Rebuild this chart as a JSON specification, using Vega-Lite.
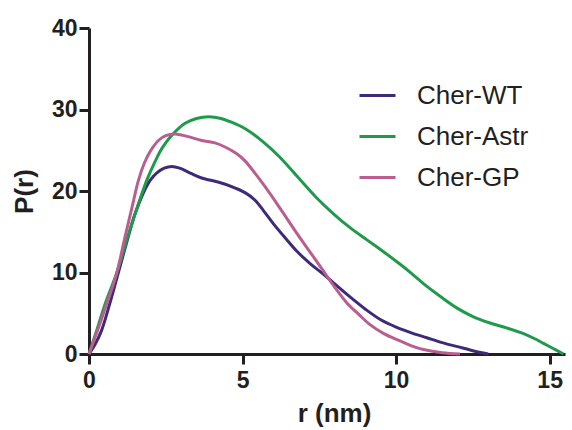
{
  "$schema": "https://vega.github.io/schema/vega-lite/v6.json",
  "width": 476,
  "height": 326,
  "autosize": {"type": "none"},
  "padding": {"left": 89, "top": 28, "right": 7, "bottom": 76},
  "background": "white",
  "config": {
    "view": {"stroke": null},
    "font": "Liberation Sans",
    "axis": {
      "grid": false,
      "domainColor": "#231f20",
      "domainWidth": 3,
      "tickColor": "#231f20",
      "tickWidth": 3,
      "tickSize": 10,
      "labelFlush": false,
      "labelFont": "Liberation Sans",
      "labelFontWeight": "bold",
      "labelFontSize": 23,
      "labelColor": "#231f20",
      "titleFont": "Liberation Sans",
      "titleFontWeight": "bold",
      "titleFontSize": 26,
      "titleColor": "#231f20"
    }
  },
  "data": {
    "values": [
      {"series": "Cher-WT", "r": 0, "p": 0},
      {"series": "Cher-WT", "r": 0.2, "p": 1.2},
      {"series": "Cher-WT", "r": 0.41, "p": 2.9},
      {"series": "Cher-WT", "r": 0.7, "p": 6.5},
      {"series": "Cher-WT", "r": 0.95, "p": 9.9},
      {"series": "Cher-WT", "r": 1.25, "p": 14.0},
      {"series": "Cher-WT", "r": 1.5, "p": 17.2},
      {"series": "Cher-WT", "r": 1.75, "p": 19.6},
      {"series": "Cher-WT", "r": 1.99, "p": 21.3},
      {"series": "Cher-WT", "r": 2.2, "p": 22.2},
      {"series": "Cher-WT", "r": 2.45, "p": 22.8},
      {"series": "Cher-WT", "r": 2.7, "p": 23.0},
      {"series": "Cher-WT", "r": 2.95, "p": 22.8},
      {"series": "Cher-WT", "r": 3.3, "p": 22.2},
      {"series": "Cher-WT", "r": 3.67, "p": 21.6},
      {"series": "Cher-WT", "r": 4.2, "p": 21.1},
      {"series": "Cher-WT", "r": 4.6, "p": 20.6},
      {"series": "Cher-WT", "r": 5.08, "p": 19.8},
      {"series": "Cher-WT", "r": 5.4, "p": 18.9},
      {"series": "Cher-WT", "r": 5.68, "p": 17.6},
      {"series": "Cher-WT", "r": 6.0, "p": 16.0},
      {"series": "Cher-WT", "r": 6.4, "p": 14.2},
      {"series": "Cher-WT", "r": 6.77, "p": 12.6},
      {"series": "Cher-WT", "r": 7.2, "p": 11.1},
      {"series": "Cher-WT", "r": 7.63, "p": 9.8},
      {"series": "Cher-WT", "r": 8.0, "p": 8.6},
      {"series": "Cher-WT", "r": 8.5, "p": 7.0},
      {"series": "Cher-WT", "r": 9.0, "p": 5.5},
      {"series": "Cher-WT", "r": 9.5, "p": 4.2},
      {"series": "Cher-WT", "r": 10.0, "p": 3.3},
      {"series": "Cher-WT", "r": 10.5, "p": 2.6},
      {"series": "Cher-WT", "r": 11.0, "p": 2.0},
      {"series": "Cher-WT", "r": 11.5, "p": 1.4},
      {"series": "Cher-WT", "r": 12.0, "p": 0.9},
      {"series": "Cher-WT", "r": 12.5, "p": 0.4},
      {"series": "Cher-WT", "r": 13.0, "p": 0},
      {"series": "Cher-Astr", "r": 0, "p": 0},
      {"series": "Cher-Astr", "r": 0.25, "p": 2.9},
      {"series": "Cher-Astr", "r": 0.55, "p": 6.4},
      {"series": "Cher-Astr", "r": 0.9, "p": 9.9},
      {"series": "Cher-Astr", "r": 1.28, "p": 14.6},
      {"series": "Cher-Astr", "r": 1.6, "p": 18.3},
      {"series": "Cher-Astr", "r": 1.88, "p": 21.3},
      {"series": "Cher-Astr", "r": 2.15, "p": 23.6},
      {"series": "Cher-Astr", "r": 2.37, "p": 25.2},
      {"series": "Cher-Astr", "r": 2.69, "p": 26.8},
      {"series": "Cher-Astr", "r": 3.13, "p": 28.3},
      {"series": "Cher-Astr", "r": 3.5, "p": 28.9},
      {"series": "Cher-Astr", "r": 3.9, "p": 29.1},
      {"series": "Cher-Astr", "r": 4.3, "p": 28.9},
      {"series": "Cher-Astr", "r": 4.6, "p": 28.5},
      {"series": "Cher-Astr", "r": 5.1, "p": 27.6},
      {"series": "Cher-Astr", "r": 5.68, "p": 26.0},
      {"series": "Cher-Astr", "r": 6.2, "p": 24.2},
      {"series": "Cher-Astr", "r": 6.87, "p": 21.4},
      {"series": "Cher-Astr", "r": 7.4, "p": 19.2},
      {"series": "Cher-Astr", "r": 7.96, "p": 17.2},
      {"series": "Cher-Astr", "r": 8.5, "p": 15.5},
      {"series": "Cher-Astr", "r": 9.05, "p": 14.0},
      {"series": "Cher-Astr", "r": 9.5, "p": 12.8},
      {"series": "Cher-Astr", "r": 10.1, "p": 11.1},
      {"series": "Cher-Astr", "r": 10.5, "p": 9.9},
      {"series": "Cher-Astr", "r": 10.9, "p": 8.6},
      {"series": "Cher-Astr", "r": 11.5, "p": 6.9},
      {"series": "Cher-Astr", "r": 12.0, "p": 5.6},
      {"series": "Cher-Astr", "r": 12.5, "p": 4.6},
      {"series": "Cher-Astr", "r": 13.06, "p": 3.8},
      {"series": "Cher-Astr", "r": 13.6, "p": 3.2},
      {"series": "Cher-Astr", "r": 14.15, "p": 2.5},
      {"series": "Cher-Astr", "r": 14.5, "p": 1.9},
      {"series": "Cher-Astr", "r": 14.8, "p": 1.3},
      {"series": "Cher-Astr", "r": 15.1, "p": 0.7},
      {"series": "Cher-Astr", "r": 15.45, "p": 0},
      {"series": "Cher-GP", "r": 0, "p": 0},
      {"series": "Cher-GP", "r": 0.28, "p": 2.9},
      {"series": "Cher-GP", "r": 0.6, "p": 6.4},
      {"series": "Cher-GP", "r": 0.9, "p": 9.9},
      {"series": "Cher-GP", "r": 1.17, "p": 14.3},
      {"series": "Cher-GP", "r": 1.4, "p": 18.0},
      {"series": "Cher-GP", "r": 1.61, "p": 21.3},
      {"series": "Cher-GP", "r": 1.8, "p": 23.4},
      {"series": "Cher-GP", "r": 2.0, "p": 24.9},
      {"series": "Cher-GP", "r": 2.26, "p": 26.2},
      {"series": "Cher-GP", "r": 2.5, "p": 26.8},
      {"series": "Cher-GP", "r": 2.8, "p": 27.0},
      {"series": "Cher-GP", "r": 3.2, "p": 26.7},
      {"series": "Cher-GP", "r": 3.67, "p": 26.2},
      {"series": "Cher-GP", "r": 4.1, "p": 25.9},
      {"series": "Cher-GP", "r": 4.43, "p": 25.4},
      {"series": "Cher-GP", "r": 4.8, "p": 24.6},
      {"series": "Cher-GP", "r": 5.08, "p": 23.7},
      {"series": "Cher-GP", "r": 5.3, "p": 22.7},
      {"series": "Cher-GP", "r": 5.68, "p": 20.8},
      {"series": "Cher-GP", "r": 6.2, "p": 18.0},
      {"series": "Cher-GP", "r": 6.77, "p": 14.8},
      {"series": "Cher-GP", "r": 7.2, "p": 12.5},
      {"series": "Cher-GP", "r": 7.63, "p": 10.2},
      {"series": "Cher-GP", "r": 8.0, "p": 8.2},
      {"series": "Cher-GP", "r": 8.39, "p": 6.3},
      {"series": "Cher-GP", "r": 8.8, "p": 4.8},
      {"series": "Cher-GP", "r": 9.15, "p": 3.6},
      {"series": "Cher-GP", "r": 9.6, "p": 2.5},
      {"series": "Cher-GP", "r": 10.13, "p": 1.6},
      {"series": "Cher-GP", "r": 10.5, "p": 1.0},
      {"series": "Cher-GP", "r": 10.89, "p": 0.55},
      {"series": "Cher-GP", "r": 11.5, "p": 0.15},
      {"series": "Cher-GP", "r": 12.08, "p": 0}
    ]
  },
  "mark": {"type": "line", "strokeWidth": 3, "interpolate": "catmull-rom", "clip": false},
  "encoding": {
    "x": {
      "field": "r",
      "type": "quantitative",
      "scale": {"domain": [0, 15.5], "nice": false},
      "axis": {"values": [0, 5, 10, 15], "title": "r (nm)", "labelPadding": 5, "titleX": 245, "titleY": 67, "titleBaseline": "alphabetic"}
    },
    "y": {
      "field": "p",
      "type": "quantitative",
      "scale": {"domain": [0, 40], "nice": false},
      "axis": {"values": [0, 10, 20, 30, 40], "title": "P(r)", "labelPadding": 2, "titleX": -52, "titleY": 163}
    },
    "color": {
      "field": "series",
      "type": "nominal",
      "scale": {"domain": ["Cher-WT", "Cher-Astr", "Cher-GP"], "range": ["#3d2b7a", "#1f9a4a", "#b95e8e"]},
      "legend": {
        "title": null,
        "orient": "none",
        "legendX": 269,
        "legendY": 48,
        "symbolType": "stroke",
        "symbolSize": 1296,
        "symbolStrokeWidth": 3,
        "labelFont": "Liberation Sans",
        "labelFontSize": 26,
        "labelColor": "#231f20",
        "labelOffset": 20,
        "rowPadding": 8,
        "padding": 0
      }
    }
  }
}
